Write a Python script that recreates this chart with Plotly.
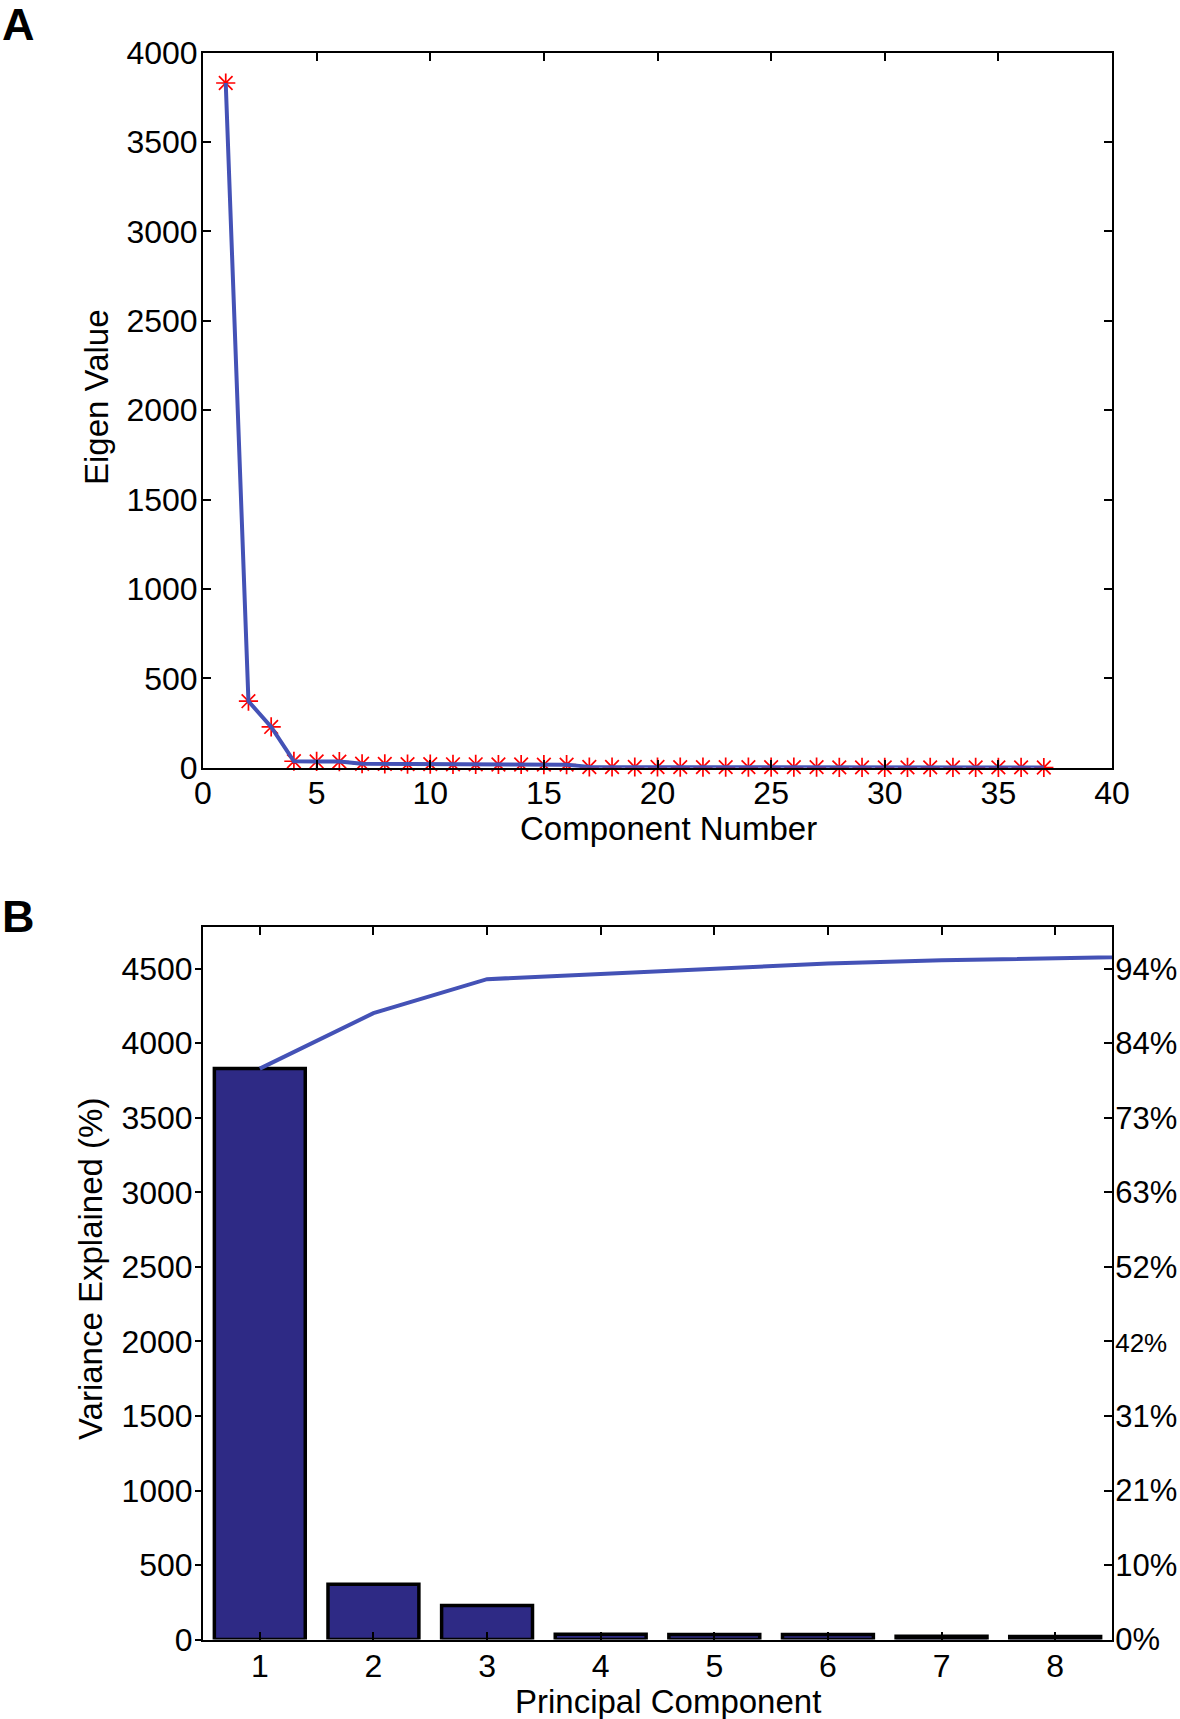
import plotly.graph_objects as go
import numpy as np

# ---------------- data ----------------
components = list(range(1, 38))
eigen_values = [3830, 372, 228, 36, 35, 34, 22, 21, 20, 20, 19, 19, 18, 18, 17, 17,
                4, 4, 4, 4, 3, 3, 3, 3, 3, 3, 3, 2, 2, 2, 2, 2, 2, 2, 2, 2, 1]

pc_labels = [1, 2, 3, 4, 5, 6, 7, 8]
pc_values = eigen_values[:8]
cum_values = list(np.cumsum(eigen_values))
total = float(sum(eigen_values))

left_ticks_b = [0, 500, 1000, 1500, 2000, 2500, 3000, 3500, 4000, 4500]
pct_labels = ["0%", "10%", "21%", "31%", "42%", "52%", "63%", "73%", "84%", "94%"]

# ---------------- style ----------------
FONT = "Liberation Sans, Arial, Helvetica, sans-serif"
W, H = 1180, 1719
LINE_BLUE = "#4452B6"
BAR_FILL = "#2E2A85"
TICK_SIZE = 32
TITLE_SIZE = 33

def px_x(p):
    return p / W

def px_y(p):
    return 1 - p / H

fig = go.Figure()

# Panel A
fig.add_trace(go.Scatter(
    x=components, y=eigen_values, mode="markers",
    marker=dict(symbol="asterisk-open", size=16, color="red",
                line=dict(color="#E8201A", width=1.7)),
    xaxis="x", yaxis="y", showlegend=False, cliponaxis=False))
fig.add_trace(go.Scatter(
    x=components, y=eigen_values, mode="lines",
    line=dict(color=LINE_BLUE, width=4),
    xaxis="x", yaxis="y", showlegend=False))

# Panel B
fig.add_trace(go.Bar(
    x=pc_labels, y=pc_values, width=0.8,
    marker=dict(color=BAR_FILL, line=dict(color="black", width=3.5)),
    xaxis="x2", yaxis="y2", showlegend=False))
fig.add_trace(go.Scatter(
    x=components, y=cum_values, mode="lines",
    line=dict(color=LINE_BLUE, width=4),
    xaxis="x2", yaxis="y2", showlegend=False))
# invisible trace to anchor the right axis
fig.add_trace(go.Scatter(
    x=[pc_labels[0]], y=[0], mode="markers", marker=dict(opacity=0),
    xaxis="x2", yaxis="y3", showlegend=False, hoverinfo="skip"))

ax_common = dict(showline=True, linecolor="black", linewidth=2,
                 showgrid=False, zeroline=False, ticks="inside",
                 ticklen=8, tickwidth=1.5, tickcolor="black", automargin=False,
                 tickfont=dict(family=FONT, size=TICK_SIZE, color="black"))

dom_x = [px_x(203), px_x(1112)]
domA_y = [px_y(767.7), px_y(52.6)]
domB_y = [px_y(1639.6), px_y(926.7)]

pct_text = [t if t != "42%" else "<span style='font-size:26px'>42%</span>" for t in pct_labels]

fig.update_layout(
    width=W, height=H, autosize=False,
    margin=dict(l=0, r=0, t=0, b=0, pad=0, autoexpand=False),
    paper_bgcolor="white", plot_bgcolor="white",
    font=dict(family=FONT, color="black"),
    xaxis=dict(**ax_common, domain=dom_x, anchor="y", range=[0, 40],
               tickmode="array", tickvals=list(range(0, 41, 5)), mirror="ticks",
               ticklabelstandoff=-4),
    yaxis=dict(**ax_common, domain=domA_y, anchor="x", range=[0, 4000],
               tickmode="array", tickvals=list(range(0, 4001, 500)), mirror="ticks",
               ticklabelstandoff=-3),
    xaxis2=dict(**ax_common, domain=dom_x, anchor="y2", range=[0.5, 8.5],
                tickmode="array", tickvals=pc_labels, mirror="ticks",
                ticklabelstandoff=-3),
    yaxis2=dict(**{**ax_common, "ticks": "outside", "ticklen": 6}, domain=domB_y,
                anchor="x2", range=[0, total], tickmode="array",
                tickvals=left_ticks_b, ticklabelstandoff=-4),
    yaxis3=dict(**{**ax_common, "tickfont": dict(family=FONT, size=31, color="black")},
                domain=domB_y, anchor="x2", overlaying="y2",
                side="right", range=[0, total], tickmode="array",
                tickvals=left_ticks_b, ticktext=pct_text, ticklabelstandoff=-5),
    annotations=[
        dict(text="<b>A</b>", x=0, y=px_y(-3), xref="paper", yref="paper",
             xanchor="left", yanchor="top", showarrow=False,
             font=dict(family=FONT, size=45, color="black")),
        dict(text="<b>B</b>", x=0, y=px_y(889), xref="paper", yref="paper",
             xanchor="left", yanchor="top", showarrow=False,
             font=dict(family=FONT, size=45, color="black")),
        dict(text="Eigen Value", x=px_x(96), y=px_y(397), xref="paper", yref="paper",
             xanchor="center", yanchor="middle",
             textangle=-90, showarrow=False,
             font=dict(family=FONT, size=TITLE_SIZE, color="black")),
        dict(text="Component Number", x=px_x(668), y=px_y(828), xref="paper", yref="paper",
             xanchor="center", yanchor="middle",
             showarrow=False, font=dict(family=FONT, size=TITLE_SIZE, color="black")),
        dict(text="Variance Explained (%)", x=px_x(90), y=px_y(1269), xref="paper", yref="paper",
             xanchor="center", yanchor="middle",
             textangle=-90, showarrow=False,
             font=dict(family=FONT, size=TITLE_SIZE, color="black")),
        dict(text="Principal Component", x=px_x(668), y=px_y(1701), xref="paper", yref="paper",
             xanchor="center", yanchor="middle",
             showarrow=False, font=dict(family=FONT, size=TITLE_SIZE, color="black")),
    ],
)

fig.write_html(
    "out.html",
    config={"displayModeBar": False},
    post_script="document.body.style.margin='0px';document.body.style.padding='0px';"
                "document.documentElement.style.overflow='hidden';",
)
